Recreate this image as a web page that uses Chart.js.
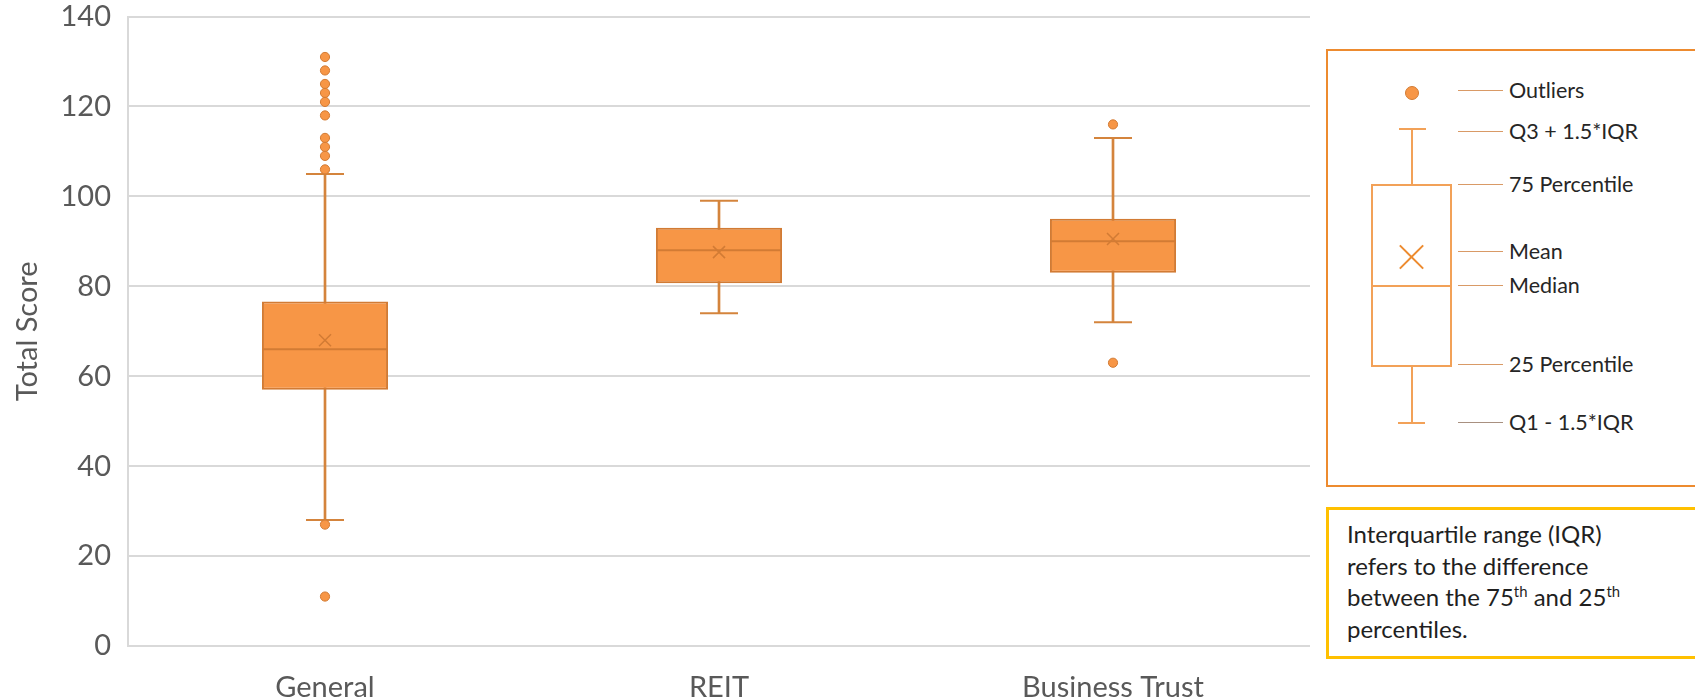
<!DOCTYPE html>
<html>
<head>
<meta charset="utf-8">
<title>Total Score by entity type</title>
<script src="https://cdn.jsdelivr.net/npm/chart.js@4.4.1/dist/chart.umd.min.js"></script>
<style>
  html, body { margin: 0; padding: 0; background: #fff; }
  body { width: 1695px; height: 700px; position: relative; overflow: hidden; font-family: Lato, "Open Sans", sans-serif; }
  #plot { position: absolute; left: 0; top: 0; }
  .frame { position: absolute; box-sizing: border-box; }
  .seg { position: absolute; background: #F2A158; }
  .lead { position: absolute; left: 1458px; width: 45px; height: 1px; background: #D99A66; }
  .tag { position: absolute; left: 1509px; height: 30px; line-height: 30px; font-size: 21.5px; color: #262626; white-space: nowrap; }
  .note { position: absolute; left: 1347px; top: 518px; font-size: 24px; line-height: 31.7px; color: #1f1f1f; white-space: nowrap; }
  .note sup { font-size: 0.62em; line-height: 0; vertical-align: 0.6em; }
</style>
</head>
<body>
<canvas id="plot" width="1320" height="700"></canvas>

<!-- key explaining the parts of a box -->
<div class="frame" style="left:1325.5px; top:49px; width:420px; height:438px; border:2.5px solid #ED8B2F;"></div>
<div class="frame" style="left:1404.7px; top:86.3px; width:14px; height:14px; border-radius:50%; background:#F79646; border:1.5px solid #D27B34;"></div>
<div class="seg" style="left:1399px; top:128px; width:27px; height:2px;"></div>
<div class="seg" style="left:1410.7px; top:129px; width:2px; height:56px;"></div>
<div class="frame" style="left:1371px; top:184px; width:81px; height:183px; border:2px solid #F2A158;"></div>
<div class="seg" style="left:1371px; top:284.7px; width:81px; height:2px;"></div>
<div class="seg" style="left:1410.7px; top:366px; width:2px; height:57px;"></div>
<div class="seg" style="left:1398px; top:421.7px; width:27px; height:2px;"></div>
<div class="seg" style="left:1395.2px; top:255.7px; width:33px; height:2px; background:#ED8B2F; transform:rotate(45deg);"></div>
<div class="seg" style="left:1395.2px; top:255.7px; width:33px; height:2px; background:#ED8B2F; transform:rotate(-45deg);"></div>

<div class="lead" style="top:90px;"></div>
<div class="lead" style="top:131px;"></div>
<div class="lead" style="top:184px;"></div>
<div class="lead" style="top:251px;"></div>
<div class="lead" style="top:285px;"></div>
<div class="lead" style="top:364px;"></div>
<div class="lead" style="top:422px; background:#A89080;"></div>
<div class="tag" style="top:75px;">Outliers</div>
<div class="tag" style="top:116px;">Q3 + 1.5*IQR</div>
<div class="tag" style="top:169px;">75 Percentile</div>
<div class="tag" style="top:236px;">Mean</div>
<div class="tag" style="top:270px;">Median</div>
<div class="tag" style="top:349px;">25 Percentile</div>
<div class="tag" style="top:407px;">Q1 - 1.5*IQR</div>

<div class="frame" style="left:1325.5px; top:507px; width:420px; height:152px; border:3px solid #FFC000;"></div>
<div class="note">Interquartile range (IQR)<br>refers to the difference<br>between the 75<sup>th</sup> and 25<sup>th</sup><br>percentiles.</div>

<script>
// Groups along the x axis
const categories = ['General', 'REIT', 'Business Trust'];

// Five-number summaries and means per group
const lowerWhisker  = [28, 74, 72];
const firstQuartile = [57, 80.7, 83];
const medians       = [66, 88, 90];
const means         = [68, 87.6, 90.5];
const thirdQuartile = [76.6, 93, 95];
const upperWhisker  = [105, 99, 113];

// Points beyond the whiskers
const outliersGeneral  = [131, 128, 125, 123, 121, 118, 113, 111, 109, 106, 27, 11];
const outliersREIT     = [];
const outliersBusiness = [116, 63];

// Value axis ticks
const yTicks = [0, 20, 40, 60, 80, 100, 120, 140];

const FILL = '#F79646';
const EDGE = '#D27B34';
const STEM = '#D4843C';
const TEXT = '#595959';
const GRID = '#D9D9D9';

const at = (vals) => categories.map((c, i) => ({ x: c, y: vals[i] }));
const outlierPoints = [outliersGeneral, outliersREIT, outliersBusiness]
  .flatMap((vals, i) => vals.map(v => ({ x: categories[i], y: v })));

Chart.defaults.font.family = 'Lato, "Open Sans", sans-serif';

new Chart(document.getElementById('plot'), {
  type: 'bar',
  data: {
    labels: categories,
    datasets: [
      { // whisker stems
        type: 'bar', grouped: false, order: 6,
        data: categories.map((c, i) => [lowerWhisker[i], upperWhisker[i]]),
        backgroundColor: STEM, borderWidth: 0, barThickness: 2
      },
      { // interquartile boxes
        type: 'bar', grouped: false, order: 5,
        data: categories.map((c, i) => [firstQuartile[i], thirdQuartile[i]]),
        backgroundColor: FILL, borderColor: EDGE, borderWidth: 2, borderSkipped: false,
        barPercentage: 0.32, categoryPercentage: 1
      },
      { // median lines
        type: 'scatter', order: 4, data: at(medians),
        pointStyle: 'line', radius: 63, borderWidth: 2, borderColor: EDGE
      },
      { // whisker caps
        type: 'scatter', order: 4, data: at(upperWhisker).concat(at(lowerWhisker)),
        pointStyle: 'line', radius: 19, borderWidth: 2, borderColor: STEM
      },
      { // means
        type: 'scatter', order: 3, data: at(means),
        pointStyle: 'crossRot', radius: 8.5, borderWidth: 1.5, borderColor: EDGE
      },
      { // outliers
        type: 'scatter', order: 2, data: outlierPoints,
        pointStyle: 'circle', radius: 4.6, backgroundColor: FILL, borderColor: EDGE, borderWidth: 1
      }
    ]
  },
  options: {
    responsive: false,
    animation: false,
    events: [],
    layout: { autoPadding: false, padding: { top: 0, right: 10, left: 0, bottom: 0 } },
    plugins: { legend: { display: false }, tooltip: { enabled: false } },
    scales: {
      x: {
        type: 'category', offset: true,
        grid: { display: false, drawTicks: false },
        border: { display: false },
        ticks: { color: TEXT, font: { size: 29 }, padding: 24 },
        afterFit(scale) { scale.height = 54; }
      },
      y: {
        min: 0, max: 140,
        afterBuildTicks(scale) { scale.ticks = yTicks.map(v => ({ value: v })); },
        ticks: { color: TEXT, font: { size: 29 }, padding: 17 },
        grid: { color: GRID, lineWidth: 2, drawTicks: false },
        border: { display: true, color: GRID, width: 2 },
        title: { display: true, text: 'Total Score', color: TEXT, font: { size: 29 }, padding: { top: 10, bottom: 0 } },
        afterFit(scale) {
          scale.width = 128;
          scale.paddingTop = 16.5;
          scale.paddingBottom = 0;
        }
      }
    }
  }
});
</script>
</body>
</html>
